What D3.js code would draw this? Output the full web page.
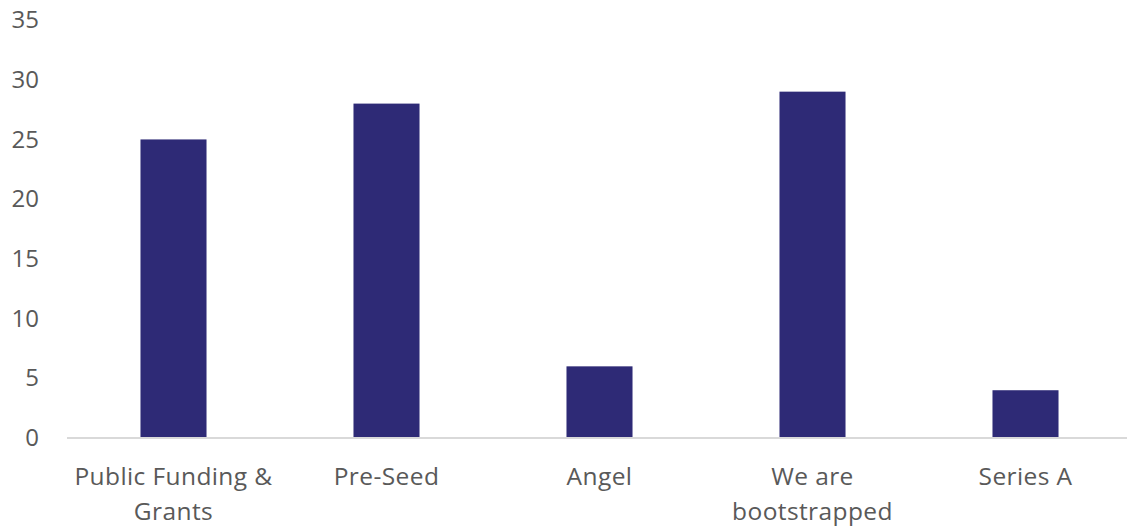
<!DOCTYPE html>
<html>
<head>
<meta charset="utf-8">
<script src="https://cdn.jsdelivr.net/npm/d3@7"></script>
<style>
  html, body { margin: 0; padding: 0; background: #fff; }
  svg text { font-family: "Open Sans", "Liberation Sans", sans-serif; fill: #595959; }
</style>
</head>
<body>
<svg id="chart" width="1127" height="530"></svg>
<script>
// Funding sources and counts
const categories = [
  ["Public Funding &", "Grants"],
  ["Pre-Seed"],
  ["Angel"],
  ["We are", "bootstrapped"],
  ["Series A"]
];
const values = [25, 28, 6, 29, 4];
const yTicks = [0, 5, 10, 15, 20, 25, 30, 35];

const svg = d3.select("#chart");
const W = 1127, H = 530;
const plot = { left: 67, right: 1132, top: 20, bottom: 438 };

const keys = categories.map(c => c.join(" "));

const x = d3.scaleBand()
  .domain(keys)
  .range([plot.left, plot.right])
  .paddingInner(0.69)
  .paddingOuter(0.345);

const y = d3.scaleLinear()
  .domain([0, 35])
  .range([plot.bottom, plot.top]);

// bars
svg.append("g")
  .selectAll("rect")
  .data(values)
  .join("rect")
  .attr("x", (d, i) => x(keys[i]))
  .attr("y", d => y(d))
  .attr("width", x.bandwidth())
  .attr("height", d => y(0) - y(d))
  .attr("fill", "#2e2a76");

// y axis labels (no axis line, no gridlines)
const yAxis = svg.append("g")
  .attr("transform", `translate(${plot.left - 28},0)`)
  .call(d3.axisLeft(y).tickValues(yTicks).tickSize(0).tickPadding(0));
yAxis.select(".domain").remove();
yAxis.selectAll("text")
  .attr("font-size", 24)
  .style("font-family", '"Open Sans", sans-serif')
  .attr("fill", "#595959");

// baseline
svg.append("line")
  .attr("x1", plot.left).attr("x2", W)
  .attr("y1", y(0)).attr("y2", y(0))
  .attr("stroke", "#d9d9d9").attr("stroke-width", 2);

// category labels
const xl = svg.append("g");
categories.forEach((lines, i) => {
  const cx = x(keys[i]) + x.bandwidth() / 2;
  const t = xl.append("text")
    .attr("x", cx)
    .attr("y", 485)
    .attr("text-anchor", "middle")
    .attr("font-size", 24.5)
    .attr("letter-spacing", 0.4);
  lines.forEach((ln, j) => {
    t.append("tspan").attr("x", cx).attr("dy", j === 0 ? 0 : 35).text(ln);
  });
});
</script>
</body>
</html>
